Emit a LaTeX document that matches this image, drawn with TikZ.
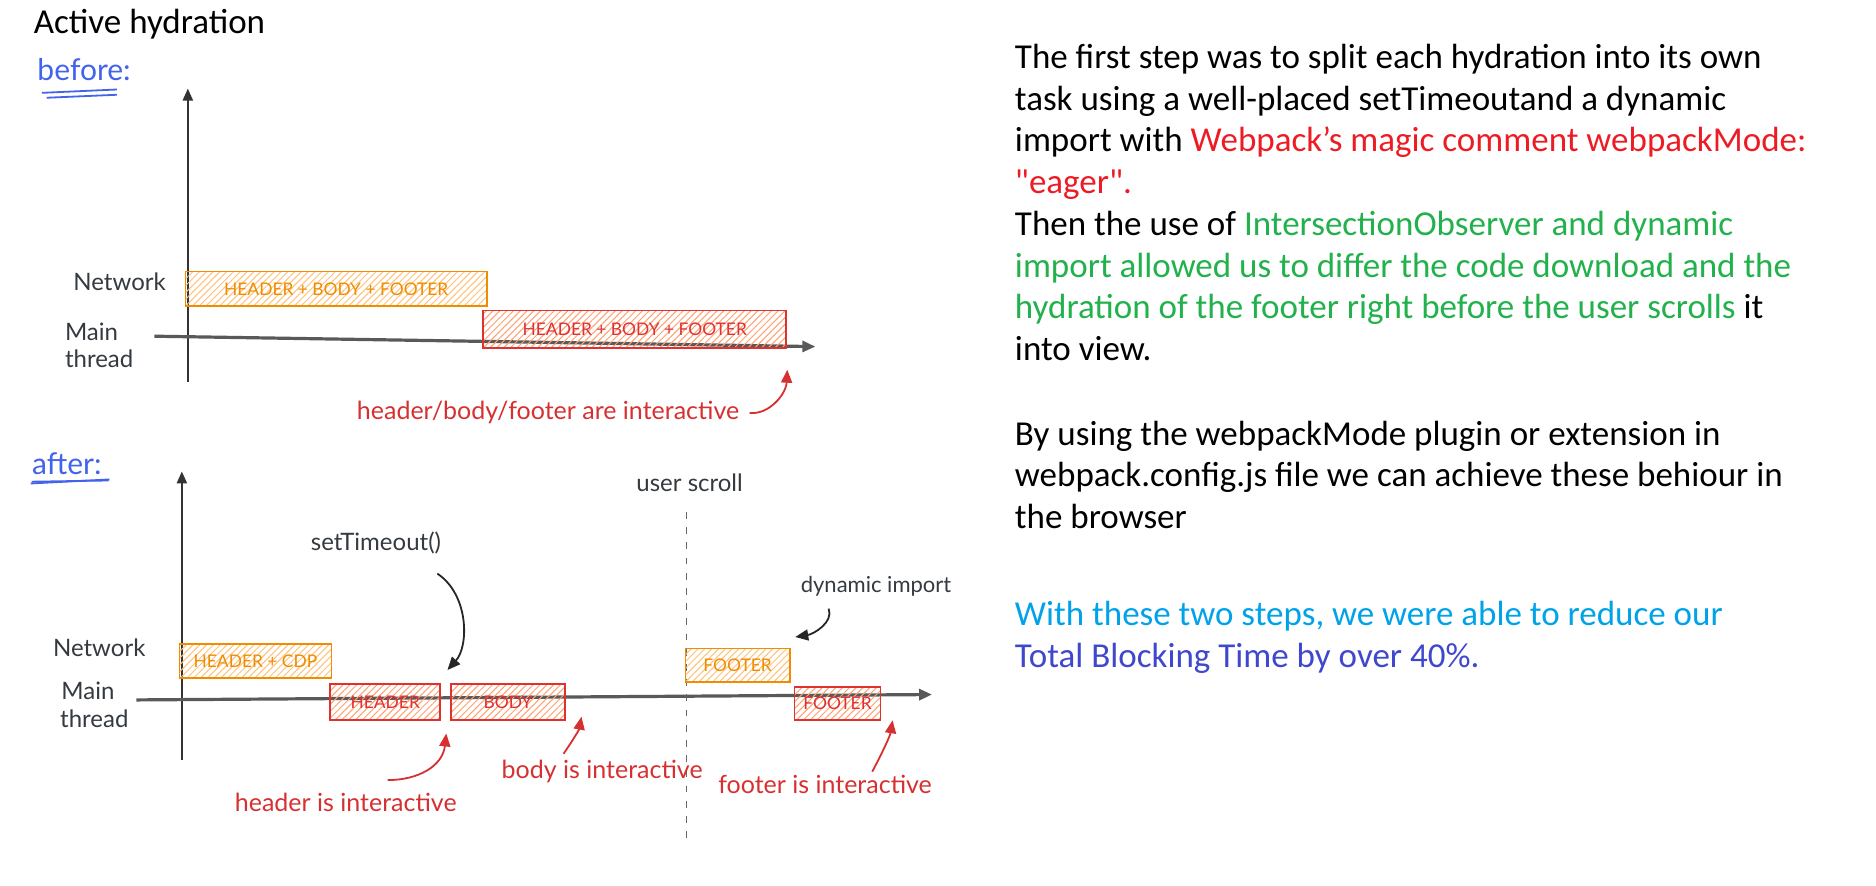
\documentclass[tikz,border=0pt]{standalone}
\usepackage{fontspec}
\setmainfont{Carlito}[Ligatures=TeXOff]
\newfontfamily\handfont{Lato}
\usetikzlibrary{arrows.meta,patterns.meta,fit}
\definecolor{wred}{HTML}{ED1C24}
\definecolor{wgreen}{HTML}{22B14C}
\definecolor{wblue}{HTML}{00A2E8}
\definecolor{windigo}{HTML}{3F48CC}
\definecolor{exorange}{HTML}{F08C00}
\definecolor{exorhatch}{HTML}{FFC078}
\definecolor{exred}{HTML}{E03131}
\definecolor{exredhatch}{HTML}{FFA070}
\definecolor{exblue}{HTML}{4263EB}
\definecolor{exdark}{HTML}{343A40}
\definecolor{exredtxt}{HTML}{D63031}
\begin{document}
\begin{tikzpicture}[x=0.5982pt,y=-0.5982pt,
  bodytxt/.style={inner sep=0,anchor=base west,font=\fontsize{17.5}{20}\selectfont},
  hand/.style={inner sep=0,anchor=base west,text=exdark,font=\handfont\fontsize{12}{14}\selectfont},
  redhand/.style={inner sep=0,anchor=base west,text=exredtxt,font=\handfont\fontsize{12.5}{14}\selectfont},
  bluehand/.style={inner sep=0,anchor=base west,text=exblue,font=\handfont\fontsize{15}{17}\selectfont},
  obox/.style={draw=exorange,line width=0.9pt,pattern={Lines[angle=45,distance=2.4pt,line width=0.5pt]},pattern color=exorhatch,inner sep=0},
  rbox/.style={draw=exred,line width=0.9pt,pattern={Lines[angle=45,distance=2.4pt,line width=0.5pt]},pattern color=exredhatch,inner sep=0},
  olabel/.style={inner sep=0,text=exorange,font=\handfont\fontsize{8.7}{10}\selectfont},
  rlabel/.style={inner sep=0,text=exred,font=\handfont\fontsize{8.7}{10}\selectfont},
  axisline/.style={line width=1.1pt,draw=black!80,-{Triangle[length=6pt,width=5pt]}},
  timeline/.style={line width=1.6pt,draw=black!65,-{Triangle[length=6.5pt,width=5.5pt]}},
  redarr/.style={line width=0.9pt,draw=exredtxt,-{Triangle[length=6.5pt,width=5.5pt]}},
  blackarr/.style={line width=0.9pt,draw=black!85,-{Triangle[length=6.5pt,width=5.5pt]}},
  underl/.style={line width=0.9pt,draw=exblue}
]
\useasboundingbox (0,0) rectangle (1568,740);

% ---------- title ----------
\node[bodytxt] (title) at (28,28) {Active hydration};

% ---------- right text ----------
\node[bodytxt] (t1) at (848,57) {The first step was to split each hydration into its own};
\node[bodytxt] (t2) at (848,92) {task using a well-placed setTimeoutand a dynamic};
\node[bodytxt] (t3) at (848,127) {import with \textcolor{wred}{Webpack’s magic comment webpackMode:}};
\node[bodytxt] (t4) at (848,162) {\textcolor{wred}{"eager".}};
\node[bodytxt] (t5) at (848,197) {Then the use of \textcolor{wgreen}{IntersectionObserver and dynamic}};
\node[bodytxt] (t6) at (848,232) {\textcolor{wgreen}{import allowed us to differ the code download and the}};
\node[bodytxt] (t7) at (848,266) {\textcolor{wgreen}{hydration of the footer right before the user scrolls} it};
\node[bodytxt] (t8) at (848,301) {into view.};
\node[bodytxt] (t9) at (848,372) {By using the webpackMode plugin or extension in};
\node[bodytxt] (t10) at (848,407) {webpack.config.js file we can achieve these behiour in};
\node[bodytxt] (t11) at (848,442) {the browser};
\node[bodytxt,text=wblue] (t12) at (848,523) {With these two steps, we were able to reduce our};
\node[bodytxt,text=windigo] (t13) at (848,558) {Total Blocking Time by over 40\%.};

% ---------- before ----------
\node[bluehand] (before) at (31,67) {before:};
\draw[underl] (35,77.6) -- (97.7,74.8);
\draw[underl] (39,81.7) -- (97.7,79.2);

\coordinate (v1b) at (157,319);
\coordinate (v1t) at (157,74);
\draw[axisline] (v1b) -- (v1t);
\coordinate (h1l) at (129,281);
\coordinate (h1r) at (681.5,289.7);
\draw[timeline] (h1l) -- (h1r);

\node[hand] (net1) at (61,243) {Network};
\node[hand] (main1) at (54,285) {Main};
\node[hand] (thr1) at (54,307) {thread};

\node[obox,fit={(155,227)(407,256)}] (ob1) {};
\node[olabel] (ob1t) at (ob1.center) {HEADER + BODY + FOOTER};
\node[rbox,fit={(404,259.5)(657,291)}] (rb1) {};
\node[rlabel] (rb1t) at (rb1.center) {HEADER + BODY + FOOTER};

\node[redhand] (ann1) at (298,351) {header/body/footer are interactive};
\coordinate (ah1) at (658,309);
\draw[redarr] ([xshift=5pt]ann1.east) .. controls (642,347) and (657,330) .. (ah1);

% ---------- after ----------
\node[bluehand] (after) at (26.5,397) {after:};
\draw[underl] (25.7,404.1) -- (91.5,400.7);
\draw[underl] (26.5,402.6) -- (90.7,401.6);

\coordinate (v2b) at (152,635);
\coordinate (v2t) at (152,394);
\draw[axisline] (v2b) -- (v2t);
\coordinate (h2l) at (114,585);
\coordinate (h2r) at (779,580.5);
\draw[timeline] (h2l) -- (h2r);

\node[hand] (net2) at (44,549) {Network};
\node[hand] (main2) at (51,585) {Main};
\node[hand] (thr2) at (50,608) {thread};

\coordinate (us1) at (573.5,428);
\coordinate (us2) at (573.5,705);
\draw[line width=0.6pt,draw=black!60,dash pattern=on 3.4pt off 4.2pt] (us1) -- (us2);
\node[hand] (uscroll) at (531.6,411) {user scroll};

\node[obox,fit={(150,538)(277,567)}] (ob2) {};
\node[olabel] (ob2t) at (ob2.center) {HEADER + CDP};
\node[rbox,fit={(276,572)(368,602)}] (rb2) {};
\node[rlabel] (rb2t) at (rb2.center) {HEADER};
\node[rbox,fit={(377,572)(472,602)}] (rb3) {};
\node[rlabel] (rb3t) at (rb3.center) {BODY};
\node[obox,fit={(573,542)(660,570)}] (ob3) {};
\node[olabel] (ob3t) at (ob3.center) {FOOTER};
\node[rbox,fit={(664,574)(736,602)}] (rb4) {};
\node[rlabel] (rb4t) at (rb4.center) {FOOTER};

\node[hand] (sto) at (259.5,460) {setTimeout()};
\coordinate (sto1) at (365.5,479.4);
\coordinate (sto2) at (374,560);
\draw[blackarr] (sto1) .. controls (392,497) and (392,540) .. (sto2);

\node[hand,font=\handfont\fontsize{11}{13}\selectfont] (dyn) at (669,495) {dynamic import};
\coordinate (dyn1) at (692.6,508.7);
\coordinate (dyn2) at (664.7,532.4);
\draw[blackarr] (dyn1) .. controls (697,520) and (680,530) .. (dyn2);

\node[redhand] (hint) at (196,678) {header is interactive};
\coordinate (hi1) at (324,652);
\coordinate (hi2) at (373,613);
\draw[redarr] (hi1) .. controls (350,652) and (370,640) .. (hi2);

\node[redhand] (bint) at (419,651) {body is interactive};
\coordinate (bi1) at (471,630);
\coordinate (bi2) at (486,599);
\draw[redarr] (bi1) .. controls (478,620) and (484,610) .. (bi2);

\node[redhand] (fint) at (600,663) {footer is interactive};
\coordinate (fi1) at (729,645);
\coordinate (fi2) at (746,602);
\draw[redarr] (fi1) .. controls (737,630) and (744,615) .. (fi2);
\end{tikzpicture}
\end{document}
